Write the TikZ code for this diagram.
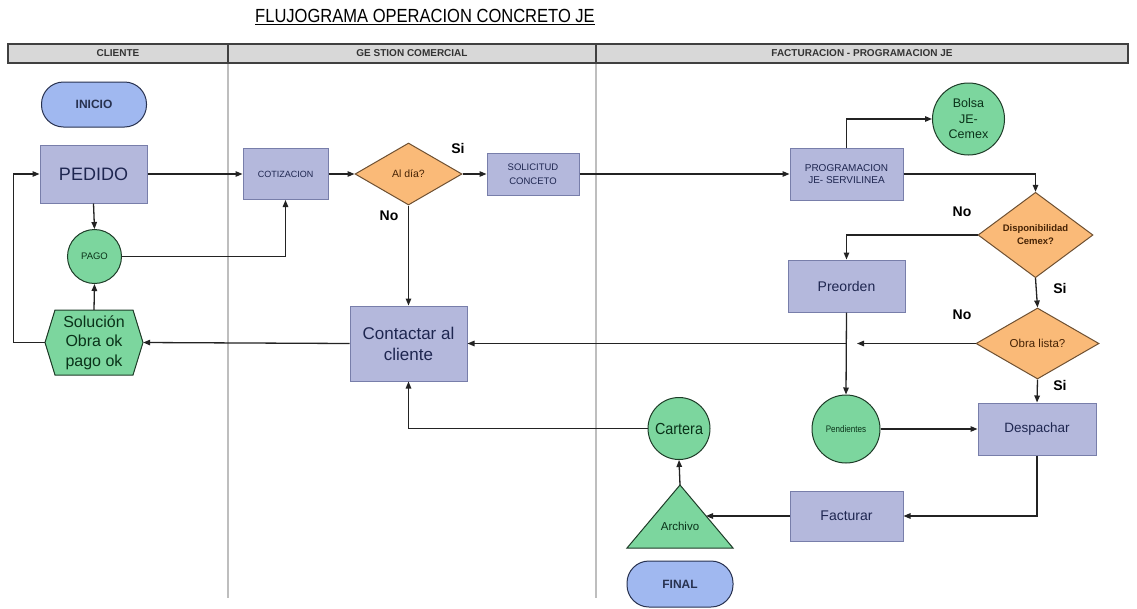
\documentclass[tikz,border=0pt]{standalone}
\usepackage{fontspec}
\setmainfont{Liberation Sans}
\usetikzlibrary{arrows.meta,shapes.geometric,calc}
\definecolor{boxfill}{RGB}{180,184,220}
\definecolor{boxline}{RGB}{120,126,170}
\definecolor{boxtext}{RGB}{30,38,80}
\definecolor{gfill}{RGB}{124,214,158}
\definecolor{gline}{RGB}{30,60,40}
\definecolor{gtext}{RGB}{10,50,25}
\definecolor{ofill}{RGB}{250,186,120}
\definecolor{oline}{RGB}{110,80,50}
\definecolor{otext}{RGB}{70,35,5}
\definecolor{pfill}{RGB}{160,184,240}
\definecolor{pline}{RGB}{40,50,80}
\definecolor{hfill}{RGB}{216,216,216}
\definecolor{laneline}{RGB}{190,190,190}
\definecolor{conn}{RGB}{35,35,35}
\newcommand{\fs}[1]{\fontsize{#1}{#1}\selectfont}
\newcommand{\fsl}[2]{\fontsize{#1}{#2}\selectfont}
\tikzset{
  procbox/.style={rectangle, draw=boxline, fill=boxfill, line width=1pt, inner sep=0pt, text=boxtext, align=center},
  gcirc/.style={circle, draw=gline, fill=gfill, line width=1pt, inner sep=0pt, text=gtext, align=center},
  odiam/.style={diamond, draw=oline, fill=ofill, line width=1pt, inner sep=0pt, text=otext, align=center},
  pill/.style={rectangle, rounded corners=22pt, draw=pline, fill=pfill, line width=1pt, inner sep=0pt, text=pline, font=\bfseries},
  arr/.style={draw=conn, line width=1.3pt, -{Triangle[length=7pt,width=5.5pt]}},
  lbl/.style={font=\fs{14}\bfseries, text=black},
  hdr/.style={font=\fs{10}\bfseries, text=black!80}
}
\begin{document}
\begin{tikzpicture}[x=1pt,y=-1pt]
\useasboundingbox[fill=white] (0,0) rectangle (1137,608);
% title
\node (title) at (425,17) {\scalebox{0.87}[1]{\fs{19}\underline{FLUJOGRAMA OPERACION CONCRETO JE}}};
% lanes
\draw[laneline, line width=2pt] (228,63) -- (228,598) (596,63) -- (596,598);
\draw[fill=hfill, draw=black!75, line width=1.2pt] (8,44) rectangle (1128,63);
\draw[black!75, line width=1.2pt] (228,44) -- (228,63) (596,44) -- (596,63);
\node[hdr] (h1) at (118,53.5) {CLIENTE};
\node[hdr] (h2) at (412,53.5) {GE STION COMERCIAL};
\node[hdr] (h3) at (862,53.5) {FACTURACION - PROGRAMACION JE};
% nodes
\node[pill, minimum width=105pt, minimum height=45pt, font=\fs{12}\bfseries] (inicio) at (94,104.5) {INICIO};
\node[procbox, minimum width=107pt, minimum height=58pt, font=\fs{18}] (pedido) at (93.5,174) {PEDIDO};
\node[gcirc, minimum size=54pt, font=\fs{9.5}] (pago) at (94.5,256.5) {PAGO};
\draw[draw=gline, fill=gfill, line width=1pt] (45,342.5) -- (55,310) -- (133,310) -- (143,342.5) -- (133,375) -- (55,375) -- cycle;
\node[inner sep=0pt, minimum width=98pt, minimum height=65pt, text=gtext, align=center, font=\fsl{16}{19.5}] (sol) at (94,342.5) {Solución\\Obra ok\\pago ok};
\node[procbox, minimum width=85pt, minimum height=51pt, font=\fs{9}] (coti) at (285.5,174) {COTIZACION};
\node[odiam, minimum width=107pt, minimum height=62pt, font=\fs{10.5}] (aldia) at (408.5,174) {Al día?};
\node[procbox, minimum width=92pt, minimum height=42pt, font=\fsl{9.5}{13.5}] (soli) at (533,174) {SOLICITUD\\CONCETO};
\node[procbox, minimum width=117pt, minimum height=75pt, font=\fsl{17}{21}] (contact) at (408.5,343.5) {Contactar al\\cliente};
\node[procbox, minimum width=113pt, minimum height=52pt, font=\fsl{10}{12.5}] (prog) at (846.5,174) {PROGRAMACION\\JE- SERVILINEA};
\node[gcirc, minimum size=72pt, font=\fsl{12.5}{15.5}] (bolsa) at (968.5,119) {Bolsa\\JE-\\Cemex};
\node[odiam, minimum width=115pt, minimum height=66pt, font=\fsl{9.5}{13}\bfseries] (disp) at (1035.5,235) {Disponibilidad\\Cemex?};
\node[procbox, minimum width=117pt, minimum height=52pt, font=\fs{14}] (preorden) at (846.5,286) {Preorden};
\node[odiam, minimum width=123pt, minimum height=71pt, font=\fs{11.5}] (obra) at (1037.5,343.5) {Obra lista?};
\node[gcirc, minimum size=68pt, font=\fs{9.5}] (pend) at (846,429) {\scalebox{0.85}[1]{Pendientes}};
\node[procbox, minimum width=118pt, minimum height=52pt, font=\fs{13.5}] (desp) at (1037,429) {Despachar};
\node[gcirc, minimum size=62pt, font=\fs{16}] (cartera) at (679,428.5) {\scalebox{0.9}[1]{Cartera}};
\node[procbox, minimum width=113pt, minimum height=50pt, font=\fs{14}] (fact) at (846.5,516) {Facturar};
\draw[draw=gline, fill=gfill, line width=1pt] (627,548) -- (680,485) -- (733,548) -- cycle;
\node[inner sep=0pt, text=gtext, font=\fs{11.5}] (archivo) at (680,526) {Archivo};
\coordinate (archtop) at (680,485);
\coordinate (archright) at (706,516);
\node[pill, minimum width=106pt, minimum height=46pt, font=\fs{12}\bfseries] (final) at (680,584) {FINAL};
% connectors
\draw[arr] (pedido.east) -- (coti.west);
\draw[arr] (coti.east) -- (aldia.west);
\draw[arr] (aldia.east) -- (soli.west);
\draw[arr] (soli.east) -- (prog.west);
\draw[arr] (aldia.south) -- (contact.north);
\draw[arr] (pedido.south) -- (pago.north);
\draw[arr] (pago.east) -| (coti.south);
\draw[arr] (sol.north) -- (pago.south);
\draw[arr] (sol.west) -- ++(-31,0) |- (pedido.west);
\draw[arr] (contact.west) -- (sol.east);
\coordinate (j1) at (857,343.5);
\draw[arr] (obra.west) -- (j1);
\draw[arr] (preorden.south |- contact.east) -- (contact.east);
\draw[arr] (preorden.south) -- (pend.north);
\draw[arr] (disp.west) -| (preorden.north);
\draw[arr] (prog.east) -| (disp.north);
\draw[arr] (prog.north) |- (bolsa.west);
\draw[arr] (disp.south) -- (obra.north);
\draw[arr] (obra.south) -- (desp.north);
\draw[arr] (pend.east) -- (desp.west);
\draw[arr] (desp.south) |- (fact.east);
\draw[arr] (fact.west) -- (archright);
\draw[arr] (archtop) -- (cartera.south);
\draw[arr] (cartera.west) -| (contact.south);
% labels
\node[lbl] (si1) at (458,148) {Si};
\node[lbl] (no1) at (389,216) {No};
\node[lbl] (no2) at (962,212) {No};
\node[lbl] (si2) at (1060,288) {Si};
\node[lbl] (no3) at (962,315) {No};
\node[lbl] (si3) at (1060,385) {Si};
\end{tikzpicture}
\end{document}
